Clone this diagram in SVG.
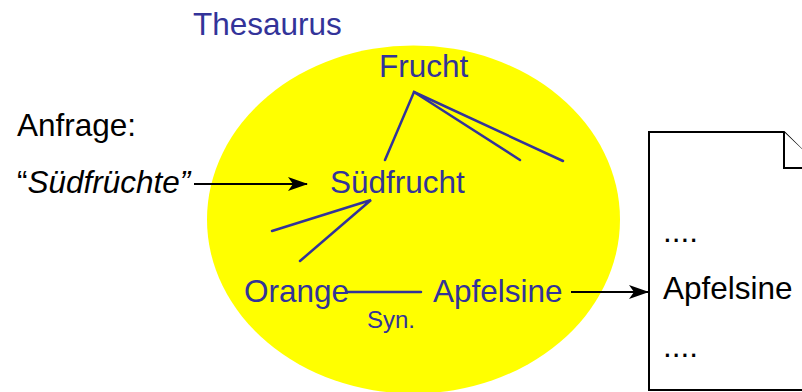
<svg xmlns="http://www.w3.org/2000/svg" width="802" height="392" viewBox="0 0 802 392">
  <defs>
    <style>
      .t { font-family: "Liberation Sans", Arial, sans-serif; font-size: 31.5px; }
      .s { font-size: 24px; }
      .blue { fill: #333399; }
      .black { fill: #000000; }
      .rel { stroke: #333399; stroke-width: 2.5; fill: none; stroke-linecap: round; }
      .arrow { stroke: #000000; stroke-width: 2.2; fill: none; }
      .doc { stroke: #000000; stroke-width: 2; fill: #ffffff; }
    </style>
    <marker id="head" viewBox="0 0 20 14" refX="19" refY="7" markerWidth="20" markerHeight="14" markerUnits="userSpaceOnUse" orient="auto">
      <path d="M0,0 L20,7 L0,14 L5,7 z" fill="#000000"/>
    </marker>
  </defs>

  <rect width="802" height="392" fill="#ffffff"/>

  <!-- thesaurus area -->
  <g id="thesaurus">
    <ellipse cx="413.5" cy="219.5" rx="206.5" ry="174" fill="#ffff00"/>
    <text class="t blue" x="193" y="35">Thesaurus</text>
  </g>

  <!-- query -->
  <g id="query">
    <text class="t black" x="17" y="136">Anfrage:</text>
    <text class="t black" x="17" y="193">“<tspan font-style="italic">Südfrüchte”</tspan></text>
  </g>

  <!-- terms -->
  <g id="frucht">
    <text class="t blue" x="379" y="77">Frucht</text>
  </g>
  <g id="suedfrucht">
    <text class="t blue" x="330" y="193">Südfrucht</text>
  </g>
  <g id="orange">
    <text class="t blue" x="244" y="302">Orange</text>
  </g>
  <g id="apfelsine">
    <text class="t blue" x="433" y="302">Apfelsine</text>
  </g>

  <!-- document -->
  <g id="document">
    <path class="doc" d="M649,390 V132 H784 L822,170 V390 Z"/>
    <path class="doc" d="M784,132 V168 H822" fill="none"/>
    <text class="t black" x="663" y="242">....</text>
    <text class="t black" x="663" y="299">Apfelsine</text>
    <text class="t black" x="663" y="357">....</text>
  </g>

  <!-- connectors -->
  <g id="connectors">
    <polyline class="rel" points="385,160 414,92 520,160"/>
    <line class="rel" x1="414" y1="92" x2="563" y2="161"/>
    <polyline class="rel" points="272,231 371,200 300,261"/>
    <line class="rel" x1="347" y1="292" x2="421" y2="292"/>
    <text class="t s blue" x="367" y="328">Syn.</text>
    <line class="arrow" x1="194" y1="184" x2="307" y2="184" marker-end="url(#head)"/>
    <line class="arrow" x1="571" y1="292" x2="648" y2="292" marker-end="url(#head)"/>
  </g>
</svg>
